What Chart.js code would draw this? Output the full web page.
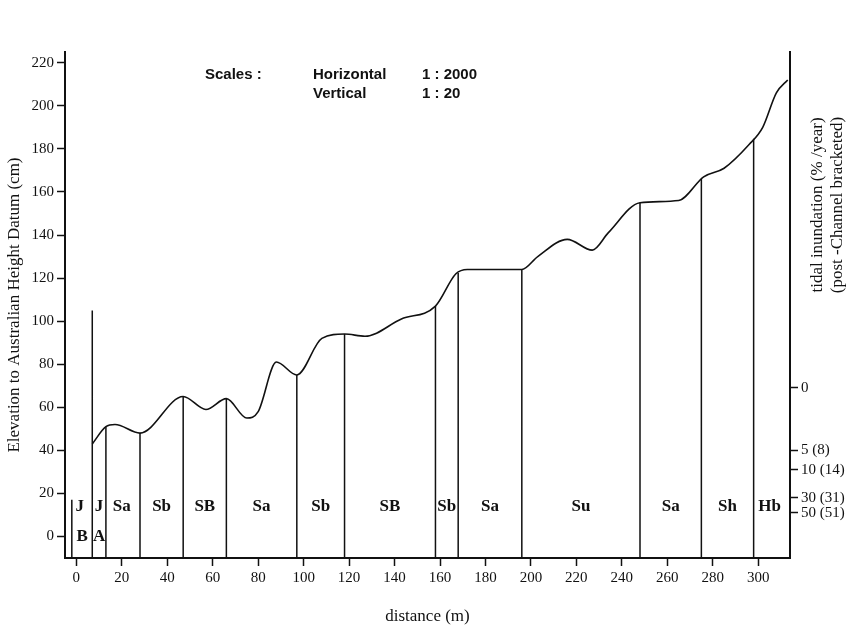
<!DOCTYPE html>
<html><head><meta charset="utf-8">
<script src="https://cdn.jsdelivr.net/npm/chart.js@4"></script>
<style>html,body{margin:0;background:#fff}#w{width:867px;height:631px}</style>
</head><body><div id="w"><canvas id="c"></canvas></div>
<script>
const profileX = [7,13,17,28,47,57,66,75,80,88,97,108,118,127,143,158,167,172,196,203,216,227,234,248,265,276,285,296,302,308,313];
const profileY = [43,51,52,48,65,59,64,55,58,81,75,92,94,93,101,107,122,124,124,130,138,133,141,155,156,167,171,182,190,206,212];
const boundaryX = [-2,7,13,28,47,66,97,118,158,168,196,248,275,298];
const zoneLabels = ['J','J','Sa','Sb','SB','Sa','Sb','SB','Sb','Sa','Su','Sa','Sh','Hb'];
const zoneSub = ['B','A'];
const xTicks = [0,20,40,60,80,100,120,140,160,180,200,220,240,260,280,300];
const yTicks = [0,20,40,60,80,100,120,140,160,180,200,220];
const rightTickVals = [69,40,31,18,11];
const rightTickLabels = ['0','5 (8)','10 (14)','30 (31)','50 (51)'];
const rightTitle = ['tidal inundation (% /year)','(post -Channel bracketed)'];

function profAt(x){
  if (x<=profileX[0]) return profileY[0];
  for(let i=1;i<profileX.length;i++){ if(x<=profileX[i]){const t=(x-profileX[i-1])/(profileX[i]-profileX[i-1]);return profileY[i-1]+t*(profileY[i]-profileY[i-1]);} }
  return profileY[profileY.length-1];
}
const bData=[];
boundaryX.forEach((x,i)=>{ const top = i===0?17:(i===1?105:profAt(x)); bData.push({x,y:-10},{x,y:top},{x,y:null}); });

const font='"Liberation Serif", "DejaVu Serif", serif';
const textPlugin={id:'txt',afterDatasetsDraw(ch){
  const c=ch.ctx,xs=ch.scales.x,ys=ch.scales.y;
  c.save();c.fillStyle='#111';c.textAlign='center';c.textBaseline='middle';
  c.font='bold 17px '+font;
  boundaryX.forEach((b,i)=>{
    const nx = i+1<boundaryX.length?boundaryX[i+1]:312;
    let cx=(b+nx)/2; if(i===0)cx=1.5; if(i===1)cx=10; if(i===2)cx=20;
    c.fillText(zoneLabels[i],xs.getPixelForValue(cx),ys.getPixelForValue(14));
  });
  c.fillText(zoneSub[0],xs.getPixelForValue(2.5),ys.getPixelForValue(0));
  c.fillText(zoneSub[1],xs.getPixelForValue(10),ys.getPixelForValue(0));
  c.textAlign='left';c.font='bold 15px "Liberation Sans", Arial, sans-serif';
  c.fillText('Scales :',205,75);
  c.fillText('Horizontal',313,75);c.fillText('1 : 2000',422,75);
  c.fillText('Vertical',313,94);c.fillText('1 : 20',422,94);
  c.translate(818,205);c.rotate(-Math.PI/2);c.textAlign='center';
  c.font='17px '+font;
  c.fillText(rightTitle[0],0,0);c.fillText(rightTitle[1],0,20);
  c.restore();
}};

new Chart(document.getElementById('c'),{
  type:'scatter',
  data:{datasets:[
    {data:profileX.map((x,i)=>({x,y:profileY[i]})),showLine:true,borderColor:'#111',borderWidth:1.6,pointRadius:0,tension:0.4,cubicInterpolationMode:'monotone'},
    {data:bData,showLine:true,spanGaps:false,borderColor:'#111',borderWidth:1.5,pointRadius:0}
  ]},
  options:{responsive:true,maintainAspectRatio:false,animation:false,
    layout:{padding:{top:52,right:0,left:0,bottom:0}},
    plugins:{legend:{display:false},tooltip:{enabled:false}},
    scales:{
      x:{type:'linear',min:-5,max:314,
        afterBuildTicks(s){s.ticks=xTicks.map(v=>({value:v}));},
        afterFit(s){s.height=73;},
        grid:{display:true,drawOnChartArea:false,drawTicks:true,tickLength:8,tickColor:'#111',tickWidth:1.5},
        border:{color:'#111',width:2},
        ticks:{color:'#111',font:{family:font,size:15},maxRotation:0,autoSkip:false},
        title:{display:true,text:'distance (m)',color:'#111',font:{family:font,size:17},padding:{top:8}}},
      y:{min:-10,max:225,
        afterBuildTicks(s){s.ticks=yTicks.map(v=>({value:v}));},
        afterFit(s){s.width=65;},
        grid:{display:true,drawOnChartArea:false,tickLength:8,tickColor:'#111',tickWidth:1.5},
        border:{color:'#111',width:2},
        ticks:{color:'#111',font:{family:font,size:15},autoSkip:false},
        title:{display:true,text:'Elevation to Australian Height Datum (cm)',color:'#111',font:{family:font,size:17},padding:{bottom:0}}},
      y2:{position:'right',min:-10,max:225,
        afterBuildTicks(s){s.ticks=rightTickVals.map(v=>({value:v}));},
        afterFit(s){s.width=77;},
        grid:{display:true,drawOnChartArea:false,tickLength:8,tickColor:'#111',tickWidth:1.5},
        border:{color:'#111',width:2},
        ticks:{color:'#111',font:{family:font,size:15},autoSkip:false,callback:(v,i)=>rightTickLabels[i]}}
    }},
  plugins:[textPlugin]
});
</script></body></html>
